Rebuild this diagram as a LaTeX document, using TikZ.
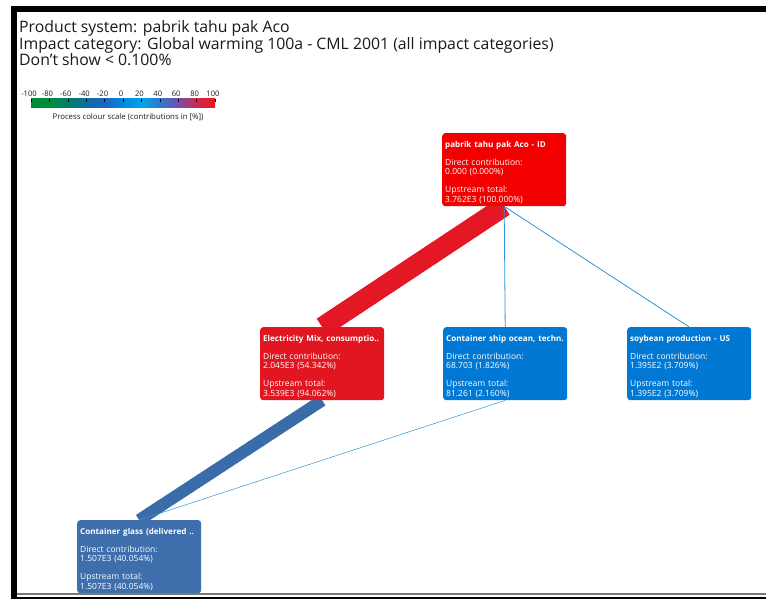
\documentclass[tikz,border=0pt]{standalone}
\usepackage{fontspec}
\setmainfont{Open Sans}
\usetikzlibrary{backgrounds}

\definecolor{hdr}{RGB}{25,25,25}
\definecolor{topred}{RGB}{242,0,0}
\definecolor{elecred}{RGB}{226,22,32}
\definecolor{procblue}{RGB}{0,120,212}
\definecolor{glassblue}{RGB}{62,110,172}
\definecolor{bandred}{RGB}{228,24,36}
\definecolor{bandblue}{RGB}{58,108,170}
\definecolor{thinblue}{RGB}{40,150,215}
\definecolor{framegray}{RGB}{120,120,120}

% colour scale from -100 (left) to 100 (right), mapped onto 25bp..75bp
\definecolor{sc0}{RGB}{0,140,50}
\definecolor{sc1}{RGB}{0,140,62}
\definecolor{sc2}{RGB}{0,128,105}
\definecolor{sc3}{RGB}{15,110,160}
\definecolor{sc4}{RGB}{30,100,195}
\definecolor{sc5}{RGB}{0,135,225}
\definecolor{sc6}{RGB}{0,165,232}
\definecolor{sc7}{RGB}{50,120,205}
\definecolor{sc8}{RGB}{115,80,170}
\definecolor{sc9}{RGB}{205,40,80}
\definecolor{sc10}{RGB}{240,20,30}
\pgfdeclarehorizontalshading{cscale}{100bp}{color(0bp)=(sc0); color(25bp)=(sc0);
  color(30bp)=(sc1); color(35bp)=(sc2); color(40bp)=(sc3); color(45bp)=(sc4);
  color(50bp)=(sc5); color(55bp)=(sc6); color(60bp)=(sc7); color(65bp)=(sc8);
  color(70bp)=(sc9); color(75bp)=(sc10); color(100bp)=(sc10)}

% bold box title on one line, taller strut to push the text block down a little
\newcommand{\ptitle}[1]{\rule{0pt}{12pt}\makebox[0pt][l]{\fontsize{8.1}{9.5}\selectfont\bfseries #1}}

\tikzset{
  hdrtext/.style={anchor=base west, inner sep=0pt, text=hdr, font=\fontsize{15.8}{18}\selectfont},
  proc/.style={rectangle, rounded corners=3pt, minimum width=124pt, minimum height=73pt,
    text width=118pt, inner xsep=3pt, inner ysep=0pt, align=left, text=white,
    anchor=north west, font=\fontsize{8.5}{9.5}\selectfont},
  band/.style={line width=#1, line cap=butt},
  thin/.style={draw=thinblue, line width=0.8pt},
  scalelbl/.style={inner sep=0pt, font=\fontsize{7.6}{8}\selectfont, text=hdr, anchor=base},
}

\begin{document}
\begin{tikzpicture}[x=1pt,y=-1pt]
\useasboundingbox (0,0) rectangle (766,599);

% window frame
\fill[black] (11,6) rectangle (17,599);
\fill[black] (11,6) rectangle (766,12);
\fill[black] (11,597) rectangle (766,599);
\draw[framegray, line width=1.2pt] (17,594) -- (766,594);

% header
\node[hdrtext] (h1) at (19,33) {Product system: pabrik tahu pak Aco};
\node[hdrtext] (h2) at (19,49.5) {Impact category: Global warming 100a - CML 2001 (all impact categories)};
\node[hdrtext] (h3) at (19,66) {Don’t show < 0.100\%};

% colour scale
\shade[shading=cscale] (31,99) rectangle (215,108);
\foreach \v [count=\i from 0] in {-100,-80,-60,-40,-20,0,20,40,60,80,100} {
  \pgfmathsetmacro{\xx}{123+\v*0.92}
  \draw[black, line width=0.4pt] (\xx,99) -- (\xx,102.5);
  \node[scalelbl] (lbl\i) at (\xx-2,96.5) {\v};
}
\node[inner sep=0pt, font=\fontsize{7.8}{8}\selectfont, text=hdr, anchor=base] (sclcap) at (128,119.5)
  {Process colour scale (contributions in [\%])};

% process boxes
\node[proc, fill=topred] (top) at (442,133)
  {\ptitle{pabrik tahu pak Aco - ID}\\[8pt]Direct contribution:\\0.000 (0.000\%)\\[8.5pt]Upstream total:\\3.762E3 (100.000\%)};
\node[proc, fill=elecred] (elec) at (260,327)
  {\ptitle{Electricity Mix, consumptio..}\\[8pt]Direct contribution:\\2.045E3 (54.342\%)\\[8.5pt]Upstream total:\\3.539E3 (94.062\%)};
\node[proc, fill=procblue] (ship) at (443,327)
  {\ptitle{Container ship ocean, techn.}\\[8pt]Direct contribution:\\68.703 (1.826\%)\\[8.5pt]Upstream total:\\81.261 (2.160\%)};
\node[proc, fill=procblue] (soy) at (627,327)
  {\ptitle{soybean production - US}\\[8pt]Direct contribution:\\1.395E2 (3.709\%)\\[8.5pt]Upstream total:\\1.395E2 (3.709\%)};
\node[proc, fill=glassblue] (glass) at (77,520)
  {\ptitle{Container glass (delivered ..}\\[8pt]Direct contribution:\\1.507E3 (40.054\%)\\[8.5pt]Upstream total:\\1.507E3 (40.054\%)};

% flows, drawn behind the boxes
\begin{scope}[on background layer]
  \draw[band=20pt, bandred] (top.south) -- (elec.north);
  \draw[band=12pt, bandblue] (elec.south) -- (glass.north);
  \draw[thin] (top.south) -- (ship.north);
  \draw[thin] (top.south) -- (soy.north);
  \draw[thin, line width=0.5pt] (ship.south) -- (glass.north);
\end{scope}
\end{tikzpicture}
\end{document}
